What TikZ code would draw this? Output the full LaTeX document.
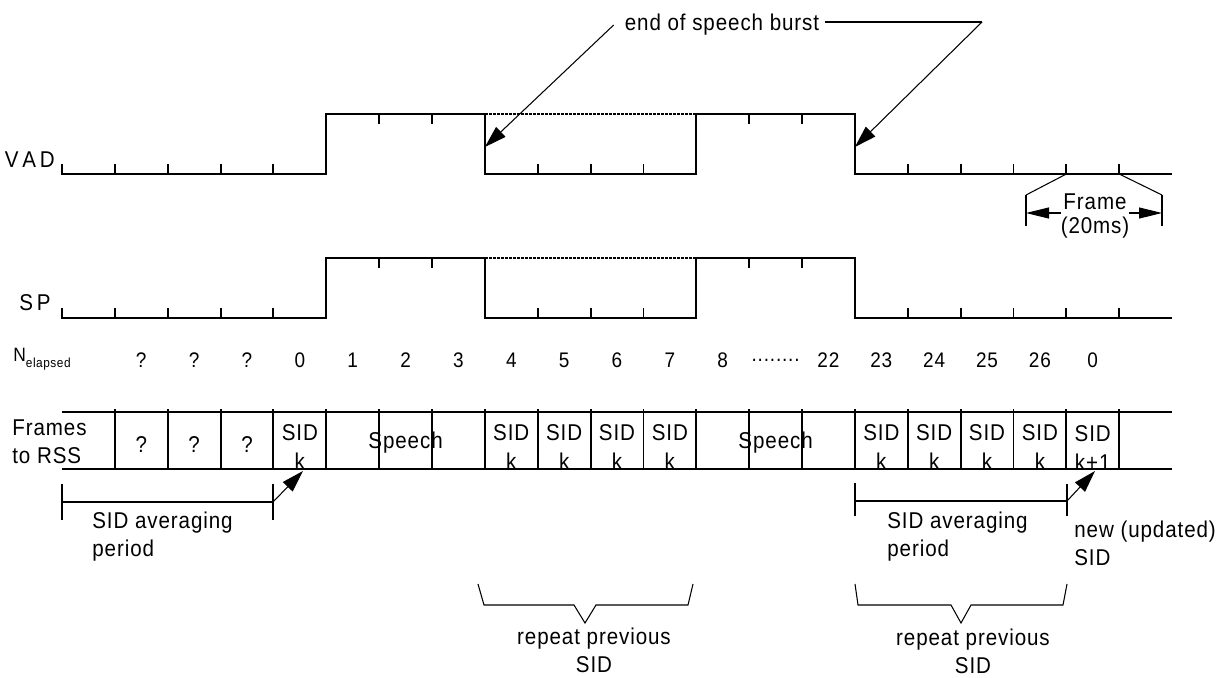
\documentclass[tikz,border=0pt]{standalone}
\usepackage{fontspec}
\setmainfont{Liberation Sans}[FakeStretch=0.9, LetterSpace=4]
\usetikzlibrary{arrows.meta, positioning}
\def\cw{52.86}
\def\elps{........}

\begin{document}
\begin{tikzpicture}[x=0.02cm, y=-0.02cm,
  font=\fontsize{13}{16}\selectfont,
  wave/.style={line width=1.1pt},
  dots/.style={line width=0.8pt, dash pattern=on 0.6mm off 0.2mm},
  hair/.style={line width=0.6pt},
  arr/.style={-{Triangle[length=4.4mm, width=2.7mm]}, line width=0.6pt},
  farr/.style={-{Triangle[length=4.6mm, width=2.2mm]}, line width=0.6pt},
  lbl/.style={inner sep=0pt, align=left},
  cell/.style={inner sep=0pt, align=center},
  num/.style={inner sep=0pt, font=\fontsize{12}{14}\selectfont}]
  \useasboundingbox (0,0) rectangle (1220,677);

  % VAD and SP levels
  \foreach \lo/\hi/\nm/\lab/\ly/\lx in {174/114/vad/V\,A\,D/160/55, 318/258/sp/S\,P/303/51}{
    \node[lbl, anchor=east] (\nm) at (\lx,\ly) {\lab};
    \draw[wave] (62,{\lo-10}) -- (62,\lo) -- ({62+5*\cw},\lo) -- ({62+5*\cw},\hi)
      -- ({62+8*\cw},\hi) -- ({62+8*\cw},\lo) -- ({62+12*\cw},\lo) -- ({62+12*\cw},\hi)
      -- ({62+15*\cw},\hi) -- ({62+15*\cw},\lo) -- (1172,\lo);
    \draw[dots] ({62+8*\cw},\hi) -- ({62+12*\cw},\hi);
    \foreach \i in {1,2,3,4,9,10,11,16,17,18,19,20}
      \draw[wave] ({62+\i*\cw},\lo) -- ++(0,-10);
    \foreach \i in {6,7,13,14}
      \draw[wave] ({62+\i*\cw},\hi) -- ++(0,10);
  }

  % end of speech burst
  \node (eos) at (722,25) {end of speech burst};
  \coordinate (knee) at (982,22);
  \coordinate (fall1) at ({62+8*\cw},147);
  \coordinate (fall2) at ({62+15*\cw},147);
  \draw[hair] (eos.east |- knee) -- (knee);
  \draw[arr] (knee) -- (fall2);
  \draw[arr] ([xshift=-1mm]eos.west) -- (fall1);

  % one frame
  \coordinate (ft1) at ({62+19*\cw},174);
  \coordinate (ft2) at ({62+20*\cw},174);
  \coordinate (fbl) at (1026,213);
  \coordinate (fbr) at (1162,213);
  \draw[hair] (ft1) -- (1026,195);
  \draw[hair] (ft2) -- (1162,195);
  \draw[wave] (1026,195) -- (1026,226) (1162,195) -- (1162,226);
  \node[cell] (frame) at (1095,202) {Frame};
  \node[cell] (fms) at (1095,228) {(20ms)};
  \draw[farr] ([xshift=-0.5mm]frame.west |- fbl) -- (fbl);
  \draw[farr] ([xshift=0.5mm]frame.east |- fbr) -- (fbr);

  % N elapsed
  \node[lbl, anchor=west] (nel) at (13,359)
    {\fontsize{11}{12}\selectfont N\raisebox{-0.6ex}{\fontsize{7.5}{9}\selectfont elapsed}};
  \foreach \t [count=\i] in {?,?,?,0,1,2,3,4,5,6,7,8,\elps,22,23,24,25,26,0}
    \node[num] (n\i) at ({88.4+\i*\cw},360) {\t};

  % frames to RSS
  \node[lbl, anchor=west] (frm) at (12,442) {Frames\\to RSS};
  \draw[wave] (62,412) -- (1172,412) (62,469) -- (1172,469);
  \foreach \i in {1,...,20}
    \draw[wave] ({62+\i*\cw},409) -- ({62+\i*\cw},469);
  \foreach \i in {1,2,3}
    \node[cell] (q\i) at ({88.4+\i*\cw},445) {?};
  \foreach \i in {4,8,9,10,11,15,16,17,18}
    \node[cell] (s\i) at ({88.4+\i*\cw},447) {SID\\k};
  \node[cell] (s19) at ({88.4+19*\cw},448) {SID\\k+1};
  \node[cell] (spa) at ({88.4+6*\cw},443) {Speech};
  \node[cell] (spb) at ({88.4+13*\cw},443) {Speech};

  % averaging periods
  \coordinate (a1l) at (62,502);
  \coordinate (a1r) at (273,502);
  \coordinate (a2l) at (855,501);
  \coordinate (a2r) at (1067,501);
  \coordinate (sid1) at (303,471);
  \coordinate (sid2) at (1095,471);
  \draw[wave] (62,484) -- (62,520) (273,484) -- (273,520) (a1l) -- (a1r);
  \draw[wave] (855,483) -- (855,516) (1067,484) -- (1067,516) (a2l) -- (a2r);
  \draw[arr] (a1r) -- (sid1);
  \draw[arr] (a2r) -- (sid2);
  \node[lbl, anchor=west] (avg1) at (92,537) {SID averaging\\period};
  \node[lbl, anchor=west] (avg2) at (887,537) {SID averaging\\period};
  \node[lbl, anchor=west] (newsid) at (1074,543) {new (updated)\\SID};

  % repeated SID
  \draw[hair] (478,584) -- (484,605) -- (574,605) -- (585,623) -- (596,605)
    -- (688,605) -- (693,584);
  \draw[hair] (855,584) -- (858,605) -- (951,605) -- (961,623) -- (971,605)
    -- (1063,605) -- (1067,584);
  \node[cell] (rep1) at (594,650) {repeat previous\\SID};
  \node[cell] (rep2) at (973,651) {repeat previous\\SID};
\end{tikzpicture}
\end{document}
